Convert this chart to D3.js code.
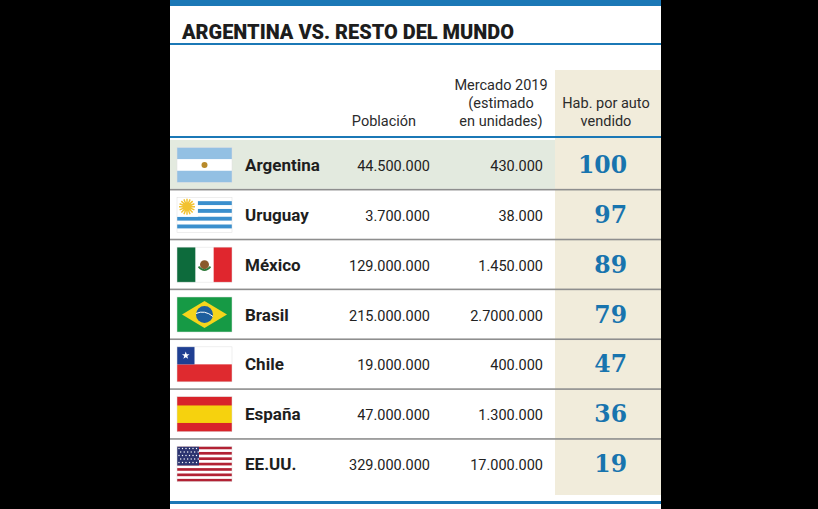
<!DOCTYPE html>
<html><head><meta charset="utf-8">
<script src="https://cdn.jsdelivr.net/npm/d3@7"></script>
<style>
html,body{margin:0;padding:0;background:#000;}
svg{display:block;}
</style></head>
<body>
<script>
// ---- data ----
const title = "ARGENTINA VS. RESTO DEL MUNDO";
const countries = ["Argentina","Uruguay","México","Brasil","Chile","España","EE.UU."];
const flags = ["ar","uy","mx","br","cl","es","us"];
const poblacion = ["44.500.000","3.700.000","129.000.000","215.000.000","19.000.000","47.000.000","329.000.000"];
const mercado = ["430.000","38.000","1.450.000","2.7000.000","400.000","1.300.000","17.000.000"];
const habPorAuto = [100,97,89,79,47,36,19];
const headPob = ["Población"];
const headMerc = ["Mercado 2019","(estimado","en unidades)"];
const headHab = ["Hab. por auto","vendido"];

const W = 818, H = 509;
const svg = d3.select("body").append("svg").attr("width",W).attr("height",H);
const P = {x0:170, x1:661};
const BLUE = "#1b78b6";

// panel
svg.append("rect").attr("x",P.x0).attr("y",0).attr("width",P.x1-P.x0).attr("height",H).attr("fill","#fff");
svg.append("rect").attr("x",P.x0).attr("y",0).attr("width",P.x1-P.x0).attr("height",6).attr("fill",BLUE);

// title
svg.append("text").attr("x",182).attr("y",39).text(title)
  .attr("font-family","Roboto").attr("font-weight",900).attr("font-size",19.5)
  .attr("fill","#1d1d1d").attr("textLength",332).attr("lengthAdjust","spacingAndGlyphs");
svg.append("rect").attr("x",P.x0).attr("y",43).attr("width",P.x1-P.x0).attr("height",2).attr("fill",BLUE);

// scales
const y = d3.scaleBand().domain(countries).range([140,489]).paddingInner(0).paddingOuter(0);
const idx = d3.range(countries.length);

// beige column
svg.append("rect").attr("x",555).attr("y",70).attr("width",P.x1-555).attr("height",495-70).attr("fill","#f1ecdb");

// argentina highlight
svg.append("rect").attr("x",P.x0).attr("y",y("Argentina")).attr("width",555-P.x0).attr("height",y.bandwidth()-1).attr("fill","#e3eadf");

// headers
const hf = {fam:"Roboto", size:14.5, col:"#2b2b2b"};
function header(lines, cx, lastY){
  svg.append("g").selectAll("text").data(lines).join("text")
    .attr("x",cx).attr("y",(d,i)=>lastY-(lines.length-1-i)*18)
    .attr("text-anchor","middle").attr("font-family",hf.fam).attr("font-size",hf.size)
    .attr("fill",hf.col).text(d=>d);
}
header(headPob,384,126);
header(headMerc,501,126);
header(headHab,606,126);

// header line
svg.append("rect").attr("x",P.x0).attr("y",136).attr("width",P.x1-P.x0).attr("height",2).attr("fill",BLUE);

// row dividers
svg.append("g").selectAll("rect").data(idx.slice(1)).join("rect")
  .attr("x",P.x0).attr("y",i=>y(countries[i])-1).attr("width",P.x1-P.x0).attr("height",1.6)
  .attr("fill","#8e8e8e");

// bottom line
svg.append("rect").attr("x",P.x0).attr("y",501).attr("width",P.x1-P.x0).attr("height",3).attr("fill",BLUE);

// rows
const rows = svg.append("g").selectAll("g").data(idx).join("g")
  .attr("transform",i=>`translate(0,${y(countries[i])+y.bandwidth()/2})`);

rows.append("text").attr("x",245).attr("y",6).text(i=>countries[i])
  .attr("font-family","Roboto").attr("font-weight",700).attr("font-size",17).attr("fill","#1e1e1e");
rows.append("text").attr("x",430).attr("y",6).attr("text-anchor","end").text(i=>poblacion[i])
  .attr("font-family","Roboto").attr("font-size",14.5).attr("fill","#222");
rows.append("text").attr("x",543).attr("y",6).attr("text-anchor","end").text(i=>mercado[i])
  .attr("font-family","Roboto").attr("font-size",14.5).attr("fill","#222");
rows.append("text").attr("x",627).attr("y",8).attr("text-anchor","end").text(i=>habPorAuto[i])
  .attr("font-family","DejaVu Serif").attr("font-weight",700).attr("font-size",23.5).attr("fill","#1874ae");

// flags
const FW = 55, FH = 35;
rows.each(function(i){
  const g = d3.select(this).append("g").attr("transform",`translate(177,${-FH/2})`);
  drawFlag(g, flags[i]);
});

function rect(g,x,yy,w,h,c){ g.append("rect").attr("x",x).attr("y",yy).attr("width",w).attr("height",h).attr("fill",c); }
function star(g,cx,cy,r,c){
  const pts=d3.range(10).map(k=>{const a=-Math.PI/2+k*Math.PI/5;const rr=k%2?r*0.4:r;return [cx+rr*Math.cos(a),cy+rr*Math.sin(a)];});
  g.append("polygon").attr("points",pts.map(p=>p.join(",")).join(" ")).attr("fill",c);
}
function drawFlag(g,f){
  if(f==="ar"){
    rect(g,0,0,FW,FH,"#fff");
    rect(g,0,0,FW,FH/3,"#93c0e3"); rect(g,0,2*FH/3,FW,FH/3,"#93c0e3");
    g.append("circle").attr("cx",FW/2).attr("cy",FH/2).attr("r",3).attr("fill","#b88a2a");
  } else if(f==="uy"){
    rect(g,0,0,FW,FH,"#fff");
    for(let k=1;k<9;k+=2) rect(g,0,k*FH/9,FW,FH/9,"#3a8fcd");
    rect(g,0,0,FW*0.38,FH*5/9,"#fff");
    const sg=g.append("g");
    for(let k=0;k<16;k++){const a=k*Math.PI/8;sg.append("line").attr("x1",10).attr("y1",9.5).attr("x2",10+8*Math.cos(a)).attr("y2",9.5+8*Math.sin(a)).attr("stroke","#f2c230").attr("stroke-width",1.5);}
    sg.append("circle").attr("cx",10).attr("cy",9.5).attr("r",4.5).attr("fill","#f2c230");
  } else if(f==="mx"){
    rect(g,0,0,FW,FH,"#fff");
    rect(g,0,0,FW/3,FH,"#0d6b3c"); rect(g,2*FW/3,0,FW/3,FH,"#e0262e");
    g.append("circle").attr("cx",FW/2).attr("cy",FH/2).attr("r",4.5).attr("fill","#8a5a2b");
    g.append("path").attr("d",`M${FW/2-6},${FH/2+2} Q${FW/2},${FH/2+9} ${FW/2+6},${FH/2+2}`).attr("stroke","#2f7a3a").attr("stroke-width",1.6).attr("fill","none");
  } else if(f==="br"){
    rect(g,0,0,FW,FH,"#169a45");
    g.append("polygon").attr("points",`${FW/2},4 ${FW-5},${FH/2} ${FW/2},${FH-4} 5,${FH/2}`).attr("fill","#f5d51c");
    g.append("circle").attr("cx",FW/2).attr("cy",FH/2).attr("r",8.5).attr("fill","#1d5f9e");
    g.append("path").attr("d",`M${FW/2-8.5},${FH/2-1} Q${FW/2},${FH/2-5} ${FW/2+8.5},${FH/2+2}`).attr("stroke","#fff").attr("stroke-width",1).attr("fill","none");
  } else if(f==="cl"){
    rect(g,0,0,FW,FH,"#fff");
    rect(g,0,FH/2,FW,FH/2,"#df2a2f");
    rect(g,0,0,FH/2,FH/2,"#1f3f92");
    star(g,FH/4,FH/4,4,"#fff");
  } else if(f==="es"){
    rect(g,0,0,FW,FH,"#d8232a");
    rect(g,0,FH/4,FW,FH/2,"#f6d20e");
  } else if(f==="us"){
    rect(g,0,0,FW,FH,"#fff");
    for(let k=0;k<13;k+=2) rect(g,0,k*FH/13,FW,FH/13,"#b22234");
    rect(g,0,0,FW*0.4,FH*7/13,"#2c3470");
    for(let r=0;r<5;r++) for(let c=0;c<6;c++){
      g.append("circle").attr("cx",2+c*3.5+(r%2)*1.7).attr("cy",2+r*3.5).attr("r",0.7).attr("fill","#fff");
    }
  }
  g.append("rect").attr("x",0).attr("y",0).attr("width",FW).attr("height",FH).attr("fill","none").attr("stroke","#ddd").attr("stroke-width",0.5);
}
</script>
</body></html>
